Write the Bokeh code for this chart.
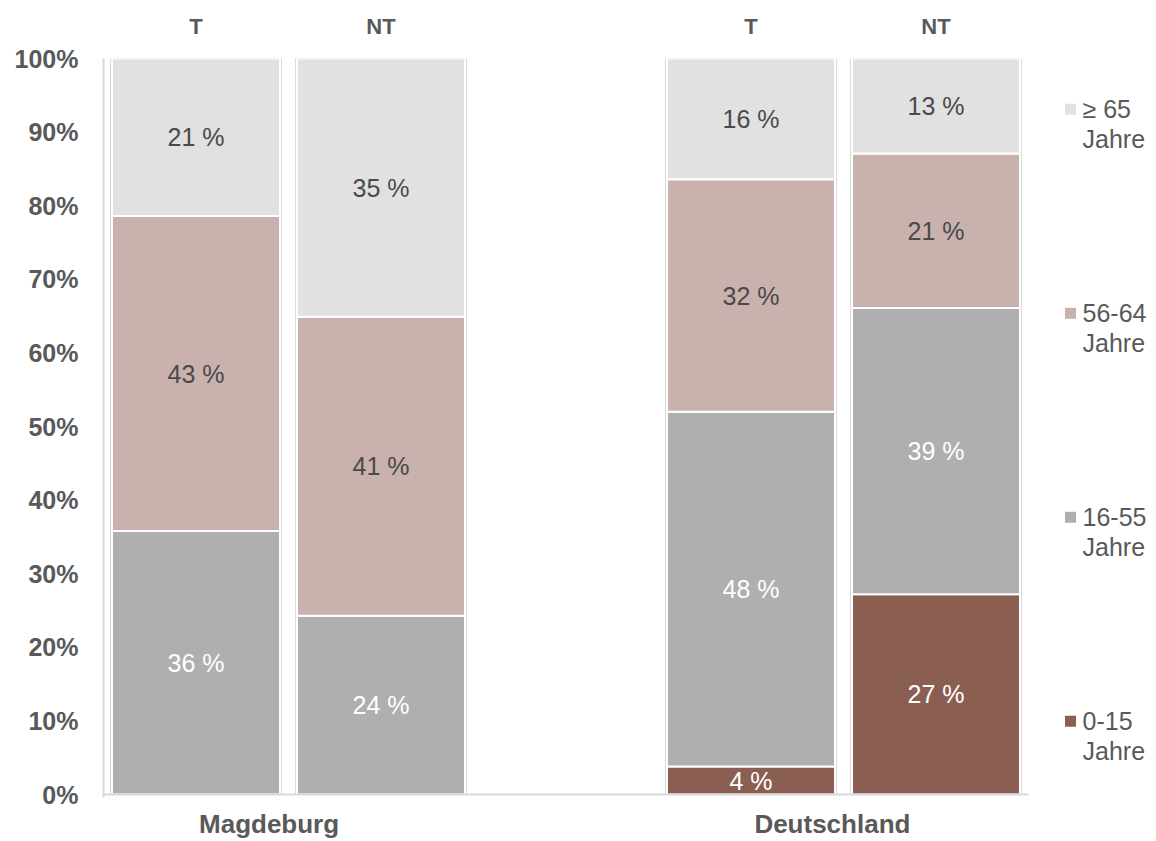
from bokeh.plotting import figure
from bokeh.models import Range1d, FixedTicker, LinearAxis
from bokeh.core.properties import value
from bokeh.embed import file_html
from bokeh.resources import INLINE

# ---------------- data ----------------
groups = ["Magdeburg", "Deutschland"]
subgroups = ["T", "NT"]
age_classes = ["0-15", "16-55", "56-64", "≥ 65"]
age_0_15 = [0.0, 0.0, 3.8, 27.2]
age_16_55 = [35.8, 24.3, 48.2, 38.9]
age_56_64 = [42.8, 40.6, 31.6, 21.0]
age_65plus = [21.4, 35.1, 16.4, 12.9]
y_ticks = [0, 10, 20, 30, 40, 50, 60, 70, 80, 90, 100]

# ---------------- styles ----------------
colors = ["#8b5e52", "#afafaf", "#c9b1ad", "#e1e1e1"]
label_colors = ["#ffffff", "#ffffff", "#4a4a4a", "#4a4a4a"]
FONT = "Liberation Sans"
TXT = "#595959"

series = [age_0_15, age_16_55, age_56_64, age_65plus]

# bar positions: two groups with an empty slot between them
xs = []
bar_sub = []
for gi, g in enumerate(groups):
    for si, s in enumerate(subgroups):
        xs.append(gi * 3 + si)
        bar_sub.append(s)

W, H = 1156, 841
left_border, top_border, bottom_border = 103, 58, 42
slot_px = 185.0
x_start = -0.5
x_end = x_start + (W - left_border) / slot_px
y_start = -0.4

p = figure(width=W, height=H, output_backend="svg", toolbar_location=None,
           x_range=Range1d(x_start, x_end), y_range=Range1d(y_start, 100),
           x_axis_location=None, min_border_left=left_border, min_border_right=0,
           min_border_top=top_border, min_border_bottom=bottom_border)
p.outline_line_color = None
p.xgrid.visible = False
p.ygrid.visible = False
p.background_fill_color = "white"

# outer thin grey outline of each bar
totals = [sum(s[i] for s in series) for i in range(len(xs))]
p.vbar(x=xs, top=totals, bottom=0, width=0.924, fill_color=None,
       line_color="#dadada", line_width=1)

# stacked segments
data = {"x": xs}
for k, s in enumerate(series):
    data[f"s{k}"] = s
keys = [f"s{k}" for k in range(len(series))]
p.vbar_stack(keys, x="x", width=0.908, color=colors, line_color="white",
             line_width=2, source=data)

# segment labels
for i, x in enumerate(xs):
    base = 0.0
    for k, s in enumerate(series):
        v = s[i]
        if v > 0:
            p.text(x=[x], y=[base + v / 2], text=[f"{round(v)} %"],
                   text_font=value(FONT), text_font_size="25px",
                   text_color=label_colors[k], text_align="center",
                   text_baseline="middle")
        base += v

# bottom axis line (only under the bars area)
p.segment(x0=[x_start], y0=[0], x1=[4.5], y1=[0], line_color="#d9d9d9",
          line_width=2)

# y axis
p.yaxis.ticker = y_ticks
p.yaxis.major_label_overrides = {t: f"{t}%" for t in y_ticks}
p.yaxis.major_label_text_font = FONT
p.yaxis.major_label_text_font_style = "bold"
p.yaxis.major_label_text_font_size = "25px"
p.yaxis.major_label_text_color = TXT
p.yaxis.major_tick_line_color = None
p.yaxis.minor_tick_line_color = None
p.yaxis.axis_line_color = "#d9d9d9"
p.yaxis.axis_line_width = 2
p.yaxis.major_label_standoff = 19


def label_axis(ticks, labels, size, standoff):
    ax = LinearAxis(ticker=FixedTicker(ticks=ticks),
                    major_label_overrides={t: l for t, l in zip(ticks, labels)},
                    axis_line_color=None, major_tick_line_color=None,
                    minor_tick_line_color=None, major_tick_in=0,
                    major_tick_out=0, major_label_standoff=standoff,
                    major_label_text_font=FONT,
                    major_label_text_font_style="bold",
                    major_label_text_font_size=size,
                    major_label_text_color=TXT)
    return ax


# sub-group labels above bars
p.add_layout(label_axis(xs, bar_sub, "22px", 20), "above")

# group labels below
group_x = [0.395, 3.44]
p.add_layout(label_axis(group_x, groups, "26px", 11), "below")

# legend (manual, top entry = oldest class)
px_per_pct = 7.38
leg_marker_x = x_start + (1070 - 103) / slot_px
leg_text_x = x_start + (1082 - 103) / slot_px
leg_first_y = (796 - 109) / px_per_pct
leg_step = 204.5 / px_per_pct
line_gap = 30 / px_per_pct
for j, k in enumerate(reversed(range(len(age_classes)))):
    yy = leg_first_y - j * leg_step
    p.scatter(x=[leg_marker_x], y=[yy], marker="square", size=11,
              fill_color=colors[k], line_color=None)
    p.text(x=[leg_text_x], y=[yy], text=[age_classes[k]],
           text_font=value(FONT), text_font_size="25px", text_color=TXT,
           text_align="left", text_baseline="middle")
    p.text(x=[leg_text_x], y=[yy - line_gap], text=["Jahre"],
           text_font=value(FONT), text_font_size="25px", text_color=TXT,
           text_align="left", text_baseline="middle")

open("out.html", "w").write(file_html(p, INLINE))
